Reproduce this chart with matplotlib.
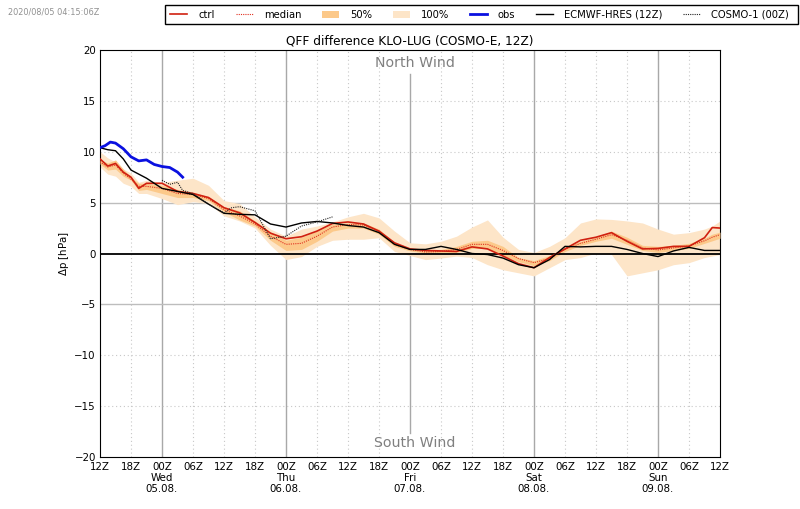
#!/usr/bin/env python3
import matplotlib
matplotlib.use('Agg')
import matplotlib.pyplot as plt
from matplotlib.patches import Rectangle
from matplotlib.ticker import MultipleLocator

# hours since 04.08. 12Z
hours = [0, 1.5, 3, 4.5, 6, 7.5, 9,
         12, 15, 18, 21, 24, 27, 30, 33, 36, 39, 42, 45,
         48, 51, 54, 57, 60, 63, 66, 69, 72, 75, 78, 81,
         84, 87, 90, 93, 96, 99, 102, 105, 108, 111, 114, 117,
         118.5, 120]

ctrl = [9.3, 8.6, 8.85, 8.0, 7.5, 6.4, 6.9,
        6.9, 6.1, 5.9, 5.5, 4.5, 4.0, 3.05, 2.0, 1.45, 1.65, 2.2, 2.95,
        3.1, 2.9, 2.2, 1.05, 0.45, 0.3, 0.25, 0.2, 0.65, 0.45, -0.25, -1.0,
        -1.4, -0.4, 0.45, 1.3, 1.6, 2.05, 1.2, 0.45, 0.5, 0.7, 0.7, 1.55,
        2.55, 2.5]
median = [9.0, 8.5, 8.7, 7.9, 7.3, 6.6, 6.6,
          6.4, 5.9, 5.8, 5.4, 4.3, 3.7, 2.9, 1.7, 0.9, 1.0, 1.7, 2.6,
          2.85, 2.8, 2.2, 0.9, 0.4, 0.15, 0.2, 0.4, 0.9, 0.9, 0.3, -0.5,
          -0.9, -0.5, 0.4, 1.0, 1.4, 1.85, 1.3, 0.55, 0.35, 0.55, 0.75, 1.25,
          1.6, 1.85]
p25 = [8.8, 8.2, 8.3, 7.6, 7.2, 6.2, 6.3,
       5.9, 5.5, 5.5, 5.2, 4.1, 3.3, 2.7, 1.3, 0.3, 0.4, 1.2, 2.2,
       2.5, 2.5, 1.9, 0.7, 0.25, 0.05, 0.05, 0.1, 0.5, 0.5, -0.2, -0.8,
       -1.2, -0.7, 0.2, 0.8, 1.2, 1.5, 0.9, 0.3, 0.1, 0.3, 0.5, 1.0,
       1.25, 1.5]
p75 = [9.2, 8.9, 9.2, 8.3, 7.5, 6.9, 6.9,
       6.7, 6.3, 6.0, 5.6, 4.6, 4.2, 3.2, 2.1, 1.3, 1.6, 2.2, 2.9,
       3.0, 3.0, 2.4, 1.1, 0.55, 0.3, 0.4, 0.7, 1.2, 1.3, 0.7, -0.4,
       -0.7, -0.2, 0.6, 1.2, 1.6, 2.2, 1.6, 0.8, 0.7, 0.8, 1.0, 1.5,
       1.9, 2.1]
p_min = [8.5, 7.8, 7.6, 6.9, 6.6, 5.9, 5.9,
         5.4, 4.8, 5.1, 4.9, 3.7, 3.2, 2.5, 0.8, -0.6, -0.3, 0.7, 1.3,
         1.4, 1.4, 1.55, 0.2, -0.2, -0.6, -0.45, -0.25, -0.4, -1.1, -1.6, -1.9,
         -2.2, -1.4, -0.6, -0.4, 0.05, -0.1, -2.2, -1.9, -1.6, -1.1, -0.9, -0.4,
         -0.25, -0.1]
p_max = [10.0, 9.4, 9.0, 8.3, 7.9, 7.0, 7.2,
         7.0, 7.2, 7.4, 6.7, 5.2, 4.9, 3.6, 2.4, 1.7, 2.4, 2.7, 3.1,
         3.6, 3.95, 3.5, 2.2, 1.05, 0.95, 1.2, 1.7, 2.6, 3.3, 1.6, 0.4,
         0.1, 0.7, 1.55, 3.0, 3.4, 3.35, 3.2, 3.0, 2.4, 1.9, 2.05, 2.4,
         2.7, 3.2]
ecmwf = [10.4, 10.2, 10.1, 9.3, 8.2, 7.8, 7.4,
         6.4, 6.1, 5.8, 4.85, 3.95, 3.85, 3.8, 2.9, 2.6, 3.0, 3.15, 3.0,
         2.75, 2.6, 2.05, 0.9, 0.4, 0.4, 0.7, 0.4, 0.0, -0.1, -0.45, -1.1,
         -1.4, -0.6, 0.7, 0.65, 0.7, 0.7, 0.4, 0.0, -0.3, 0.25, 0.6, 0.3,
         0.3, 0.3]

cosmo_hours = [12, 13.5, 15, 16, 18, 21, 24, 25.5, 27, 30, 33, 36, 39, 42, 45]
cosmo = [7.2, 6.8, 7.0, 6.2, 5.9, 4.85, 4.0, 4.5, 4.6, 4.2, 1.45, 1.7, 2.7, 3.1, 3.6]

obs_hours = [0, 1, 2, 3, 4.5, 6, 7.5, 9, 10.5, 12, 13.5, 15, 16]
obs = [10.4, 10.6, 10.95, 10.85, 10.3, 9.5, 9.1, 9.2, 8.75, 8.55, 8.45, 8.0, 7.5]

yticks = [-20, -15, -10, -5, 0, 5, 10, 15, 20]
hour_labels = ['12Z', '18Z', '00Z', '06Z']
day_labels = ['Wed\n05.08.', 'Thu\n06.08.', 'Fri\n07.08.', 'Sat\n08.08.', 'Sun\n09.08.']

C_CTRL = '#d02010'
C_50 = '#fcc98a'
C_100 = '#fde5c8'
C_OBS = '#0a10e0'
TICK_FS = 7.4

fig = plt.figure(figsize=(8.0, 5.09), dpi=100)
ax = fig.add_axes([100 / 800, 1 - 457 / 509, 620 / 800, 407 / 509])

ax.fill_between(hours, p_min, p_max, color=C_100, lw=0, zorder=2)
ax.fill_between(hours, p25, p75, color=C_50, lw=0, zorder=3)
ax.plot(hours, median, color='#e03020', lw=0.8, ls=(0, (1, 1)), zorder=4)
ax.plot(hours, ctrl, color=C_CTRL, lw=1.2, zorder=5)
ax.plot(hours, ecmwf, color='black', lw=1.0, zorder=6)
ax.plot(cosmo_hours, cosmo, color='#222222', lw=0.8, ls=(0, (1, 1)), zorder=6)
ax.plot(obs_hours, obs, color=C_OBS, lw=2.0, zorder=7)
ax.axhline(0, color='black', lw=1.3, zorder=4)

ax.set_xlim(0, 120)
ax.set_ylim(-20, 20)
ax.set_yticks(yticks)
ax.xaxis.set_major_locator(MultipleLocator(6))
ax.tick_params(length=0, labelsize=TICK_FS, pad=3)
ax.tick_params(axis='x', labelbottom=False)

# grid: solid at midnight, dotted elsewhere; the 60h line stops short of the wind labels
for h in range(6, 120, 6):
    if h == 60:
        ax.axvline(h, ymin=0.06, ymax=0.94, color='#a8a8a8', lw=1.0, zorder=1)
    elif (h - 12) % 24 == 0:
        ax.axvline(h, color='#a8a8a8', lw=1.0, zorder=1)
    else:
        ax.axvline(h, color='#c8c8c8', lw=0.8, ls=(0, (1, 2.5)), zorder=1)
for y in yticks[1:-1]:
    if y == 0:
        continue
    if y in (-5, 5):
        ax.axhline(y, color='#bdbdbd', lw=1.0, zorder=1)
    else:
        ax.axhline(y, color='#c8c8c8', lw=0.8, ls=(0, (1, 2.5)), zorder=1)

for i, h in enumerate(range(0, 121, 6)):
    ax.text(h, -20.45, hour_labels[i % 4], fontsize=TICK_FS, ha='center', va='top')
for i, lab in enumerate(day_labels):
    ax.text(12 + 24 * i, -21.6, lab, fontsize=TICK_FS, ha='center', va='top', linespacing=1.15)

ax.text(61, 18.7, 'North Wind', fontsize=10.2, color='#808080', ha='center', va='center', zorder=8)
ax.text(61, -18.6, 'South Wind', fontsize=10.2, color='#808080', ha='center', va='center', zorder=8)

ax.set_ylabel(r'$\Delta$p [hPa]', fontsize=TICK_FS, labelpad=2)
ax.set_title('QFF difference KLO-LUG (COSMO-E, 12Z)', fontsize=8.7, pad=4)

fig.text(8 / 800, 1 - 12 / 509, '2020/08/05 04:15:06Z', fontsize=5.9, color='#909090', va='center')

# legend frame drawn separately so its box is independent of the text padding
fig.add_artist(Rectangle((165 / 800, 1 - 24 / 509), 633 / 800, 19 / 509, transform=fig.transFigure,
                         fc='white', ec='black', lw=1.0))
handles = [
    plt.Line2D([], [], color=C_CTRL, lw=1.2),
    plt.Line2D([], [], color='#e03020', lw=0.8, ls=(0, (1, 1))),
    plt.Rectangle((0, 0), 1, 1, fc=C_50, ec='none'),
    plt.Rectangle((0, 0), 1, 1, fc=C_100, ec='none'),
    plt.Line2D([], [], color=C_OBS, lw=2.0),
    plt.Line2D([], [], color='black', lw=1.0),
    plt.Line2D([], [], color='#222222', lw=0.8, ls=(0, (1, 1))),
]
labels = ['ctrl', 'median', '50%', '100%', 'obs', 'ECMWF-HRES (12Z)', 'COSMO-1 (00Z)']
leg = fig.legend(handles, labels, ncol=7, fontsize=7.2, loc='upper right',
                 bbox_to_anchor=(793.5 / 800, 1 - 5 / 509), borderaxespad=0,
                 frameon=False, handlelength=1.7, columnspacing=2.08,
                 handletextpad=1.1, borderpad=0.45)

fig.savefig('out.png', dpi=100)
